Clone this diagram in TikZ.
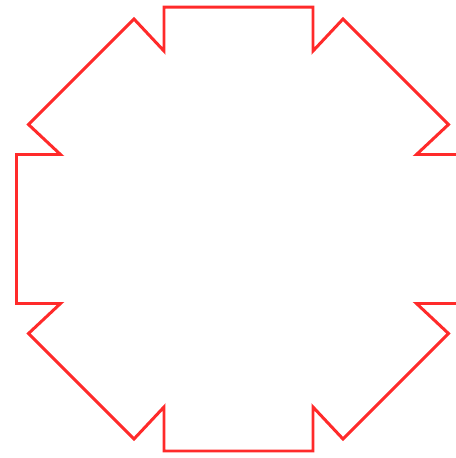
\documentclass[tikz,border=0pt]{standalone}
\usetikzlibrary{positioning}
\definecolor{cred}{HTML}{FF2A2A}
\tikzset{
  outline/.style={draw=cred, line width=1.7pt, line join=miter},
}
\begin{document}
\begin{tikzpicture}[x=0.02cm, y=0.02cm]
  \useasboundingbox (-238.5,-229) rectangle (217.5,229);
  \clip (-238.5,-229) rectangle (217.5,229);
  % one notched side per quarter turn
  \draw[outline] (-210,104.5)
    \foreach \a in {0,-90,-180,-270} {
      -- ([rotate=\a]-104.5,210) -- ([rotate=\a]-74.5,178) -- ([rotate=\a]-74.5,222)
      -- ([rotate=\a]74.5,222) -- ([rotate=\a]74.5,178) -- ([rotate=\a]104.5,210)
    } -- cycle;
\end{tikzpicture}
\end{document}
